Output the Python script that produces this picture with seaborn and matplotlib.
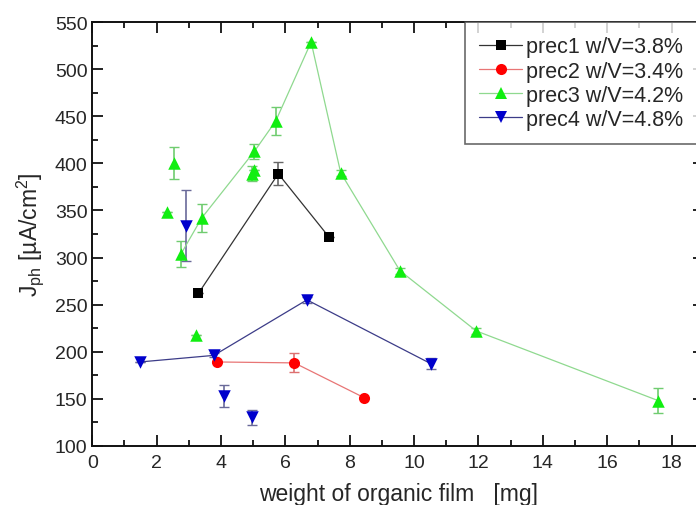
import matplotlib
matplotlib.use("Agg")
import matplotlib.pyplot as plt
import seaborn as sns
from matplotlib.lines import Line2D
from matplotlib.ticker import MultipleLocator

# data
prec1_x = [3.30, 5.78, 7.35]
prec1_y = [262, 389, 322]
prec1_err = [0, 12, 0]

prec2_x = [3.89, 6.28, 8.45]
prec2_y = [189, 188, 151]
prec2_err = [0, 10, 0]

prec3_x = [2.76, 3.40, 5.04, 5.70, 6.80, 7.72, 9.56, 11.93, 17.58]
prec3_y = [304, 342, 413, 445, 529, 390, 286, 222, 148]
prec3_err = [14, 15, 8, 15, 0, 3, 3, 3, 13]
prec3_extra_x = [2.33, 2.54, 3.22, 4.97, 5.04]
prec3_extra_y = [348, 400, 218, 389, 393]
prec3_extra_err = [0, 17, 0, 8, 0]

prec4_x = [1.48, 3.78, 6.67, 10.53]
prec4_y = [189, 196, 255, 187]
prec4_err = [0, 2, 3, 6]
prec4_extra_x = [2.91, 4.09, 4.97]
prec4_extra_y = [334, 153, 130]
prec4_extra_err = [38, 12, 8]

labels = ["prec1 w/V=3.8%", "prec2 w/V=3.4%", "prec3 w/V=4.2%", "prec4 w/V=4.8%"]

sns.set_style("ticks")
plt.rcParams['font.family'] = ['Liberation Sans', 'DejaVu Sans']
plt.rcParams['font.size'] = 14

fig = plt.figure(figsize=(6.96, 5.06), dpi=100)
# the right edge of the frame sits just outside the picture, as in the reference
ax = fig.add_axes([92.3 / 696, 1 - 446.7 / 506, (704 - 92.3) / 696, (446.7 - 23.3) / 506])

# style per series: marker, marker colour, line colour, errorbar colour, size
styles = [
    ("s", "#000000", "#333333", "#666666", 6.5),
    ("o", "#ff0000", "#e87575", "#dd7070", 8),
    ("^", "#11ee11", "#8fd98f", "#70cc70", 9),
    ("v", "#0000cc", "#3c3c88", "#6a6a99", 9),
]

series = [
    (prec1_x, prec1_y, prec1_err, [], [], []),
    (prec2_x, prec2_y, prec2_err, [], [], []),
    (prec3_x, prec3_y, prec3_err, prec3_extra_x, prec3_extra_y, prec3_extra_err),
    (prec4_x, prec4_y, prec4_err, prec4_extra_x, prec4_extra_y, prec4_extra_err),
]

for (x, y, err, ex, ey, eerr), (mk, mc, lc, ec, ms) in zip(series, styles):
    ax.errorbar(x + ex, y + ey, yerr=err + eerr, fmt="none", ecolor=ec,
                elinewidth=1.2, capsize=3.5, capthick=1, zorder=2)
    sns.lineplot(x=x, y=y, ax=ax, color=lc, linewidth=0.9, zorder=3)
    sns.scatterplot(x=x + ex, y=y + ey, ax=ax, marker=mk, color=mc,
                    s=ms ** 2, linewidth=0, zorder=4)

ax.set_xlim(0, 19.01)
ax.set_ylim(100, 550)
ax.xaxis.set_major_locator(MultipleLocator(2))
ax.xaxis.set_minor_locator(MultipleLocator(1))
ax.yaxis.set_major_locator(MultipleLocator(50))
ax.yaxis.set_minor_locator(MultipleLocator(25))
ax.tick_params(which="both", direction="in", top=True, right=True, width=1.3,
               color="#111111", labelsize=14)
ax.tick_params(which="major", length=8)
ax.tick_params(which="minor", length=4)
ax.tick_params(axis="x", pad=6)
for sp in ax.spines.values():
    sp.set_linewidth(1.4)
    sp.set_color("#111111")

ax.set_xlabel("weight of organic film   [mg]", fontsize=16.5, labelpad=8)
ax.set_ylabel(r"J$_{\mathregular{ph}}$ [µA/cm$^{\mathregular{2}}$]", fontsize=16.5, labelpad=6)

handles = [Line2D([0], [0], color=lc, linewidth=0.9, marker=mk, markerfacecolor=mc,
                  markeredgewidth=0, markersize=ms)
           for (mk, mc, lc, ec, ms) in styles]
leg = ax.legend(handles, labels, loc="upper left",
                bbox_to_anchor=((465 - 92.3) / (704 - 92.3), 1.0),
                borderaxespad=0, fancybox=False, frameon=True, fontsize=15.5,
                handlelength=2.0, handletextpad=0.2, labelspacing=0.15,
                borderpad=0.65, edgecolor="#444444")
leg.get_frame().set_linewidth(1.2)

fig.savefig("out.png", dpi=100)
